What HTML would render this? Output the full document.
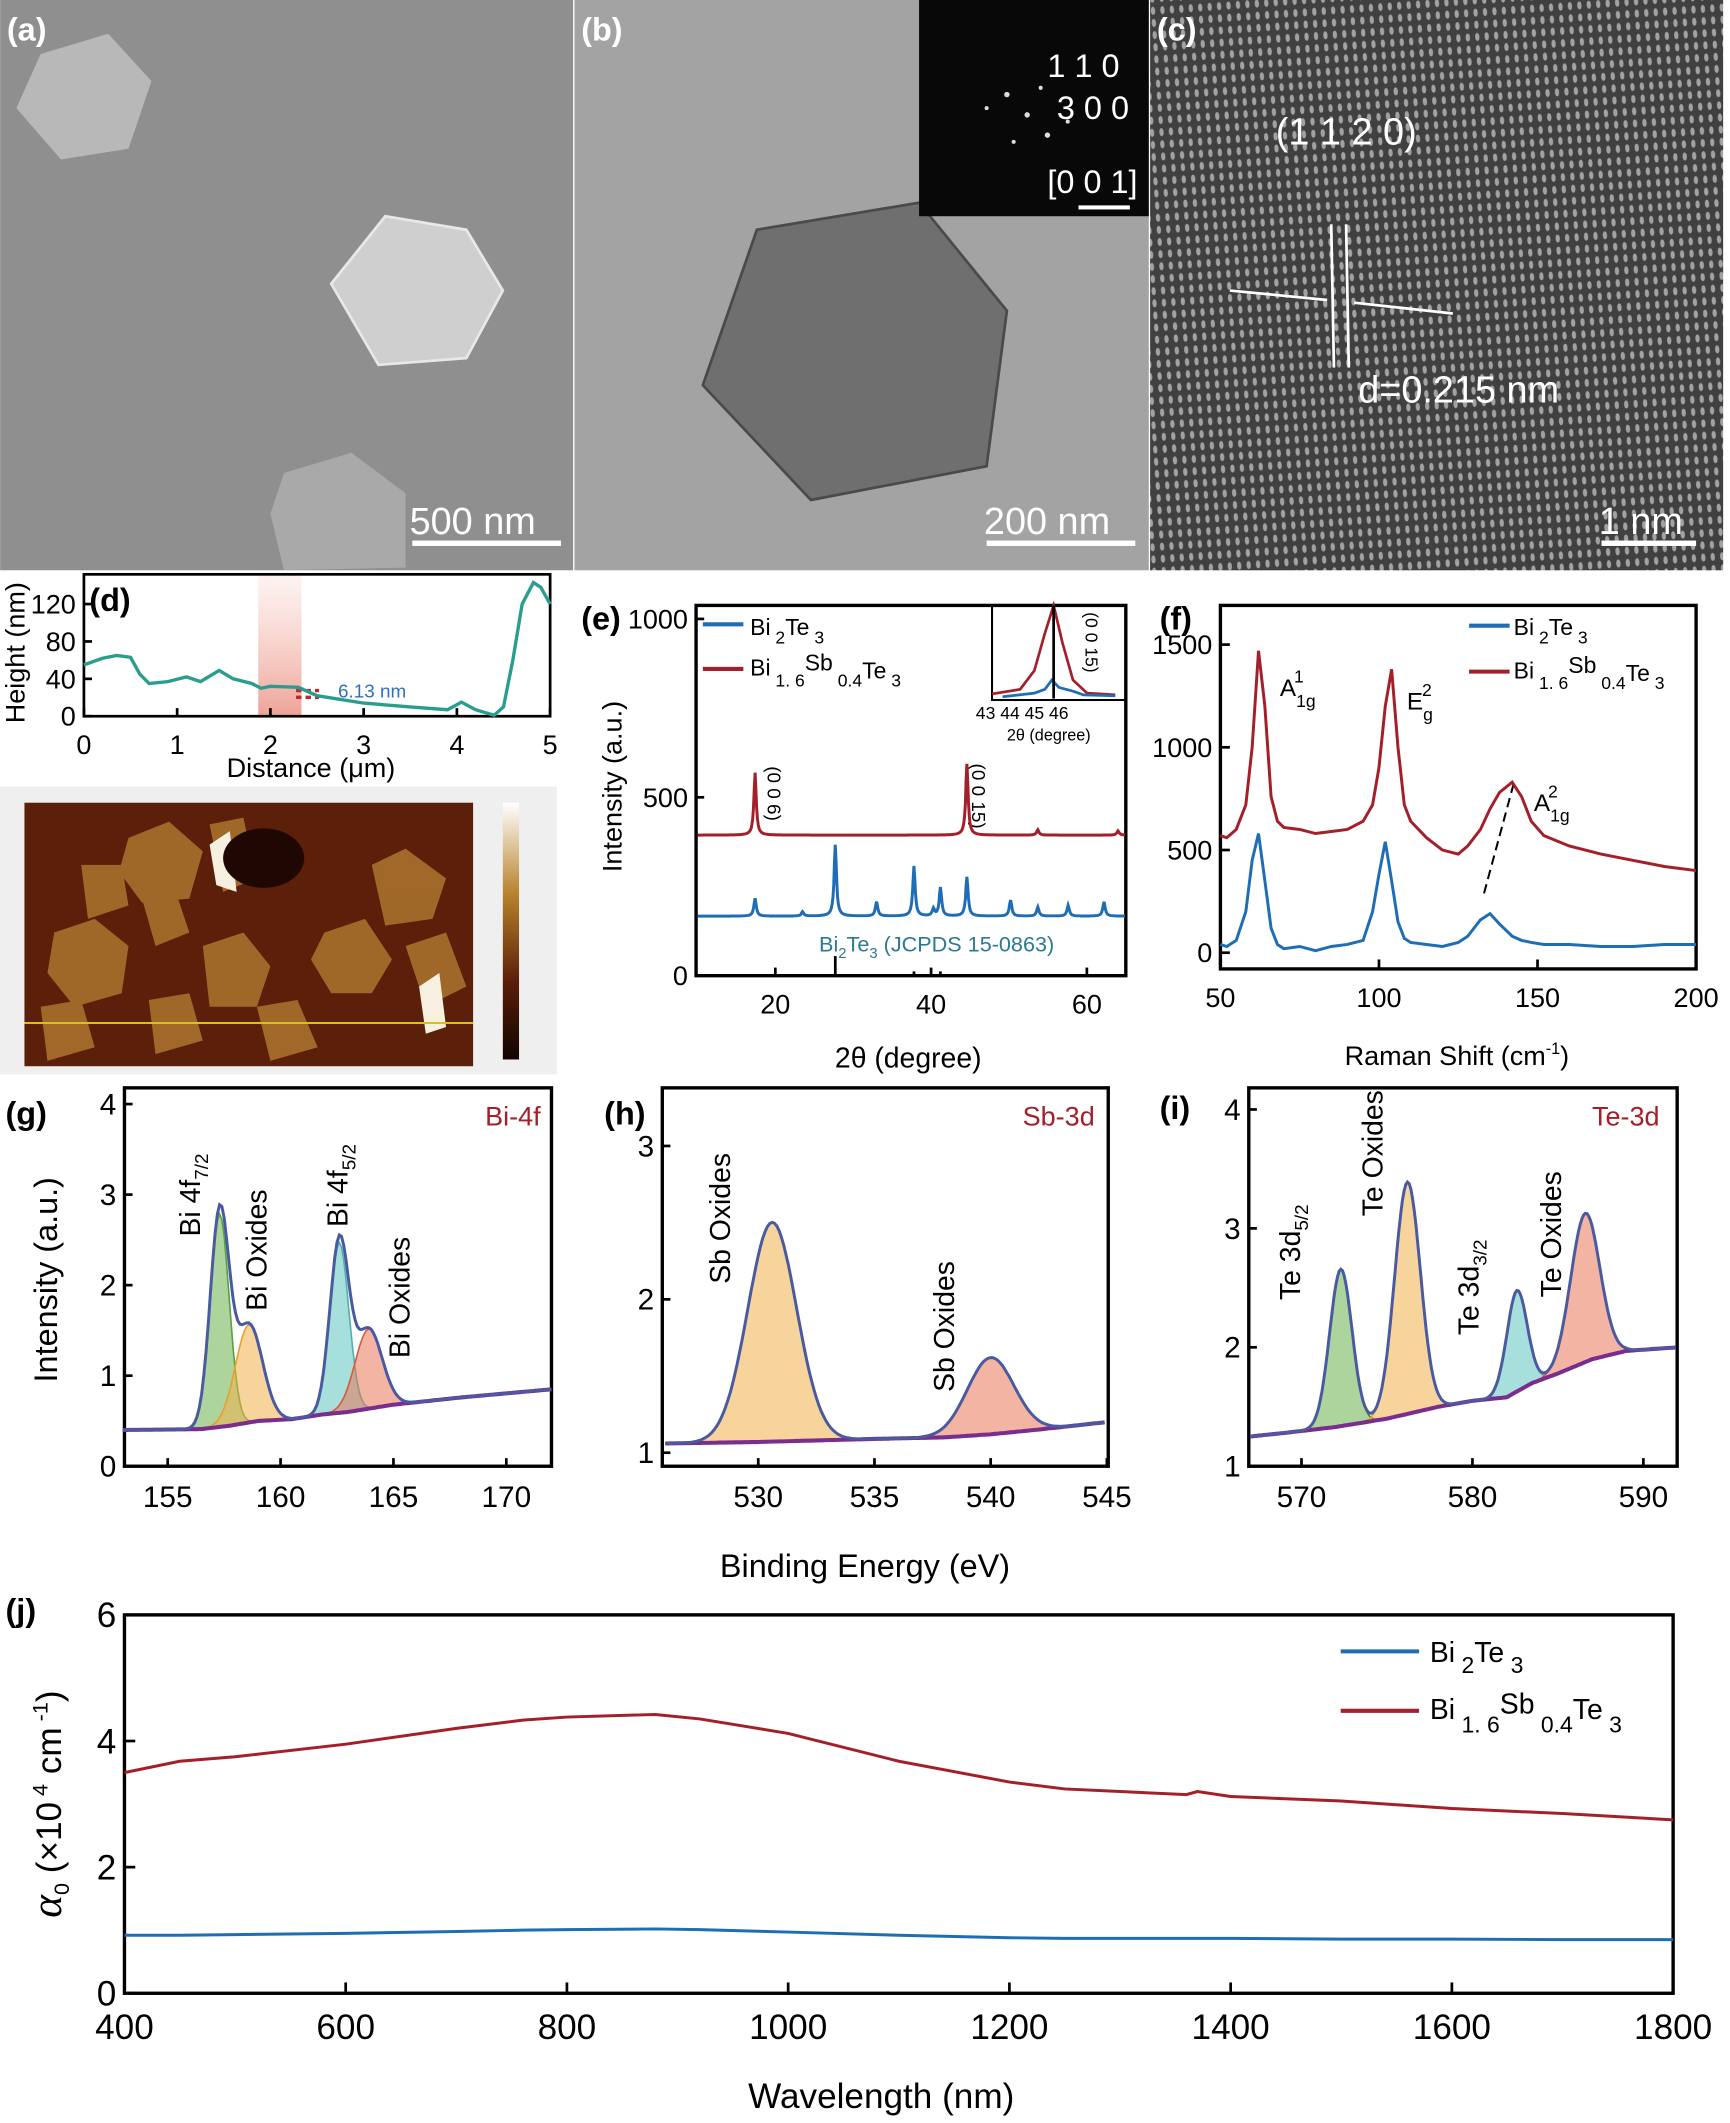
<!DOCTYPE html>
<html><head><meta charset="utf-8"><style>
html,body{margin:0;padding:0;background:#fff}
svg{display:block;font-family:"Liberation Sans",sans-serif}
</style></head><body>
<svg id="fig" width="1730" height="2123" viewBox="0 0 1280 1571" xmlns="http://www.w3.org/2000/svg">
<defs>
<pattern id="lat" width="7" height="9" patternUnits="userSpaceOnUse" patternTransform="rotate(-4)">
<rect width="7" height="9" fill="#3a3a3a"/><ellipse cx="3.5" cy="4.5" rx="1.6" ry="3" fill="#bdbdbd"/></pattern>
<linearGradient id="cbar" x1="0" y1="0" x2="0" y2="1"><stop offset="0" stop-color="#fff"/><stop offset="0.35" stop-color="#b8842e"/><stop offset="0.7" stop-color="#5a1e08"/><stop offset="1" stop-color="#100400"/></linearGradient>
<linearGradient id="band" x1="0" y1="0" x2="0" y2="1"><stop offset="0" stop-color="#f6c6bd" stop-opacity="0.2"/><stop offset="1" stop-color="#eea396"/></linearGradient>
</defs>
<!-- (a) -->
<g>
<rect x="0" y="0" width="424" height="422" fill="#8f8f8f"/>
<polygon points="30,40 80,25 112,60 95,110 45,118 12,80" fill="#b8b8b8"/>
<polygon points="285,160 345,170 372,215 345,265 280,270 245,210" fill="#cfcfcf" stroke="#e8e8e8" stroke-width="2"/>
<polygon points="210,350 260,335 300,365 300,420 210,422 200,380" fill="#a9a9a9"/>
<text x="5" y="30" font-size="24" font-weight="bold" fill="#fff">(a)</text>
<rect x="305" y="400" width="110" height="4" fill="#fff"/>
<text x="303" y="395" font-size="28" fill="#fff">500 nm</text>
</g>
<!-- (b) -->
<g>
<rect x="425" y="0" width="425" height="422" fill="#a3a3a3"/>
<polygon points="560,170 680,150 745,230 730,345 600,370 520,285" fill="#6f6f6f" stroke="#4a4a4a" stroke-width="2"/>
<rect x="680" y="0" width="170" height="160" fill="#080808"/>
<g fill="#ddd"><circle cx="760" cy="85" r="2"/><circle cx="745" cy="70" r="2"/><circle cx="775" cy="100" r="2"/><circle cx="730" cy="80" r="1.5"/><circle cx="790" cy="90" r="1.5"/><circle cx="750" cy="105" r="1.5"/><circle cx="770" cy="65" r="1.5"/></g>
<text x="775" y="57" font-size="24" fill="#fff">1 1 0</text>
<text x="782" y="88" font-size="24" fill="#fff">3 0 0</text>
<text x="775" y="143" font-size="24" fill="#fff">[0 0 1]</text>
<rect x="798" y="152" width="38" height="3" fill="#fff"/>
<text x="430" y="30" font-size="24" font-weight="bold" fill="#fff">(b)</text>
<rect x="730" y="400" width="110" height="4" fill="#fff"/>
<text x="728" y="395" font-size="28" fill="#fff">200 nm</text>
</g>
<!-- (c) -->
<g>
<rect x="851" y="0" width="424" height="422" fill="url(#lat)"/>
<rect x="851" y="0" width="424" height="422" fill="#555" opacity="0.25"/>
<text x="944" y="107" font-size="28" fill="#fff">(1 1 2 0)</text>
<line x1="985" y1="166" x2="987" y2="272" stroke="#fff" stroke-width="2"/>
<line x1="996" y1="166" x2="998" y2="272" stroke="#fff" stroke-width="2"/>
<line x1="910" y1="215" x2="982" y2="222" stroke="#fff" stroke-width="2"/>
<line x1="1075" y1="232" x2="1002" y2="224" stroke="#fff" stroke-width="2"/>
<text x="1005" y="298" font-size="28" fill="#fff">d=0.215 nm</text>
<text x="856" y="30" font-size="24" font-weight="bold" fill="#fff">(c)</text>
<rect x="1185" y="400" width="70" height="4" fill="#fff"/>
<text x="1183" y="395" font-size="28" fill="#fff">1 nm</text>
</g>
<!-- (d) -->
<g id="pd">
<rect x="191" y="425" width="32" height="105" fill="url(#band)"/>
<rect x="62" y="425" width="345" height="105" fill="none" stroke="#000" stroke-width="2"/>
<text x="66" y="452" font-size="24" font-weight="bold">(d)</text>
<text x="250" y="516" font-size="14" fill="#2f6fc0">6.13 nm</text>
<line x1="219" y1="511" x2="236" y2="511" stroke="#c0262a" stroke-width="2.5" stroke-dasharray="4,3"/>
<line x1="219" y1="516" x2="236" y2="516" stroke="#c0262a" stroke-width="2.5" stroke-dasharray="4,3"/>
<text x="25" y="490" font-size="20" transform="rotate(-90 18 490)" text-anchor="middle">Height (nm)</text>
<text x="230" y="575" font-size="20" text-anchor="middle">Distance (μm)</text>
</g>
<g>
<rect x="0" y="582" width="412" height="213" fill="#efefef"/>
<rect x="18" y="594" width="332" height="195" fill="#5b1f0a"/>
<g fill="#a8702c" opacity="0.9">
<polygon points="95,620 125,608 150,630 140,665 105,668 88,645"/>
<polygon points="155,610 180,605 190,650 165,660"/>
<polygon points="275,640 300,628 330,650 320,680 285,685"/>
<polygon points="240,690 270,680 290,710 275,735 245,735 230,710"/>
<polygon points="40,690 70,680 95,700 90,735 55,745 35,720"/>
<polygon points="150,700 180,690 200,715 190,745 155,745"/>
<polygon points="105,665 130,660 140,690 115,700"/>
<polygon points="60,640 90,640 95,670 65,680"/>
<polygon points="300,700 330,690 345,730 315,745"/>
<polygon points="30,745 60,740 70,775 35,785"/>
<polygon points="190,745 220,740 235,775 200,785"/>
<polygon points="110,740 140,735 150,770 115,780"/>
</g>
<polygon points="155,625 170,615 175,660 160,655" fill="#f7f0e0"/>
<polygon points="310,730 325,720 330,760 315,765" fill="#f7f0e0"/>
<ellipse cx="195" cy="635" rx="30" ry="22" fill="#1f0803"/>
<line x1="18" y1="757" x2="350" y2="757" stroke="#d8c020" stroke-width="1.5"/>
<rect x="372" y="594" width="12" height="190" fill="url(#cbar)"/>
</g>
<!-- (e) -->
<g id="pe">
<rect x="515" y="448" width="318" height="274" fill="none" stroke="#000" stroke-width="2.5"/>
<text x="430" y="466" font-size="24" font-weight="bold">(e)</text>
<text x="468" y="590" font-size="20" text-anchor="middle" transform="rotate(-90 460 590)">Intensity (a.u.)</text>
<text x="672" y="790" font-size="21" text-anchor="middle">2θ (degree)</text>
<line x1="520" y1="462" x2="550" y2="462" stroke="#1f6eb5" stroke-width="3"/>
<text x="555" y="470" font-size="17">Bi<tspan dy="6" font-size="13"> 2</tspan><tspan dy="-6">Te</tspan><tspan dy="6" font-size="13"> 3</tspan></text>
<line x1="520" y1="495" x2="550" y2="495" stroke="#a3202b" stroke-width="3"/>
<text x="555" y="500" font-size="17">Bi<tspan dy="8" font-size="13"> 1. 6</tspan><tspan dy="-12">Sb</tspan><tspan dy="12" font-size="13"> 0.4</tspan><tspan dy="-6">Te</tspan><tspan dy="6" font-size="13"> 3</tspan></text>
<text x="0" y="0" font-size="14" transform="translate(568,567) rotate(90)">(0 0 6)</text>
<text x="0" y="0" font-size="14" transform="translate(719,565) rotate(90)">(0 0 15)</text>
<text x="606" y="704" font-size="16" fill="#2a7a93">Bi<tspan font-size="11" dy="5">2</tspan><tspan dy="-5">Te</tspan><tspan font-size="11" dy="5">3</tspan><tspan dy="-5"> (JCPDS 15-0863)</tspan></text>
<rect x="734" y="448" width="99" height="70" fill="none" stroke="#000" stroke-width="1.5"/>
<text x="0" y="0" font-size="13" transform="translate(803,453) rotate(90)">(0 0 15)</text>
<text x="722" y="532" font-size="13">43 44 45 46</text>
<text x="745" y="548" font-size="12">2θ (degree)</text>
</g>
<!-- (f) -->
<g id="pf">
<rect x="903" y="448" width="352" height="269" fill="none" stroke="#000" stroke-width="2.5"/>
<text x="858" y="466" font-size="24" font-weight="bold">(f)</text>
<text x="1078" y="788" font-size="20" text-anchor="middle">Raman Shift (cm<tspan font-size="12" dy="-8">-1</tspan><tspan dy="8">)</tspan></text>
<line x1="1087" y1="463" x2="1117" y2="463" stroke="#1f6eb5" stroke-width="3"/>
<text x="1120" y="470" font-size="17">Bi<tspan dy="6" font-size="13"> 2</tspan><tspan dy="-6">Te</tspan><tspan dy="6" font-size="13"> 3</tspan></text>
<line x1="1087" y1="497" x2="1117" y2="497" stroke="#a3202b" stroke-width="3"/>
<text x="1120" y="502" font-size="17">Bi<tspan dy="8" font-size="13"> 1. 6</tspan><tspan dy="-12">Sb</tspan><tspan dy="12" font-size="13"> 0.4</tspan><tspan dy="-6">Te</tspan><tspan dy="6" font-size="13"> 3</tspan></text>
<text x="947" y="515" font-size="18">A<tspan font-size="13" dy="8">1g</tspan><tspan font-size="13" dx="-16" dy="-18">1</tspan></text>
<text x="1041" y="525" font-size="18">E<tspan font-size="13" dy="8">g</tspan><tspan font-size="13" dx="-8" dy="-18">2</tspan></text>
<text x="1135" y="600" font-size="18">A<tspan font-size="13" dy="8">1g</tspan><tspan font-size="13" dx="-16" dy="-18">2</tspan></text>
<line x1="1120" y1="580" x2="1097" y2="665" stroke="#000" stroke-width="1.5" stroke-dasharray="7,4"/>
</g>
<!-- (g)(h)(i) -->
<g id="pg">
<rect x="92" y="805" width="316" height="280" fill="none" stroke="#000" stroke-width="2.5"/>
<text x="4" y="832" font-size="24" font-weight="bold">(g)</text>
<text x="400" y="833" font-size="20" fill="#a3202b" text-anchor="end">Bi-4f</text>
<text x="50" y="955" font-size="24" text-anchor="middle" transform="rotate(-90 42 955)">Intensity (a.u.)</text>
<text x="148" y="915" font-size="21" transform="rotate(-90 148 915)">Bi 4f<tspan font-size="14" dy="6">7/2</tspan></text>
<text x="197" y="970" font-size="21" transform="rotate(-90 197 970)">Bi Oxides</text>
<text x="257" y="908" font-size="21" transform="rotate(-90 257 908)">Bi 4f<tspan font-size="14" dy="6">5/2</tspan></text>
<text x="303" y="1005" font-size="21" transform="rotate(-90 303 1005)">Bi Oxides</text>
</g>
<g id="ph">
<rect x="490" y="805" width="330" height="280" fill="none" stroke="#000" stroke-width="2.5"/>
<text x="447" y="832" font-size="24" font-weight="bold">(h)</text>
<text x="810" y="833" font-size="20" fill="#a3202b" text-anchor="end">Sb-3d</text>
<text x="540" y="950" font-size="21" transform="rotate(-90 540 950)">Sb Oxides</text>
<text x="706" y="1030" font-size="21" transform="rotate(-90 706 1030)">Sb Oxides</text>
<text x="640" y="1167" font-size="24" text-anchor="middle">Binding Energy (eV)</text>
</g>
<g id="pi">
<rect x="924" y="805" width="317" height="280" fill="none" stroke="#000" stroke-width="2.5"/>
<text x="858" y="828" font-size="24" font-weight="bold">(i)</text>
<text x="1228" y="833" font-size="20" fill="#a3202b" text-anchor="end">Te-3d</text>
<text x="962" y="962" font-size="21" transform="rotate(-90 962 962)">Te 3d<tspan font-size="14" dy="6">5/2</tspan></text>
<text x="1023" y="900" font-size="21" transform="rotate(-90 1023 900)">Te Oxides</text>
<text x="1094" y="988" font-size="21" transform="rotate(-90 1094 988)">Te 3d<tspan font-size="14" dy="6">3/2</tspan></text>
<text x="1155" y="960" font-size="21" transform="rotate(-90 1155 960)">Te Oxides</text>
</g>
<!-- (j) -->
<g id="pj">
<rect x="92" y="1195" width="1146" height="280" fill="none" stroke="#000" stroke-width="2.5"/>
<text x="4" y="1200" font-size="24" font-weight="bold">(j)</text>
<text x="652" y="1560" font-size="26" text-anchor="middle">Wavelength (nm)</text>
<text x="45" y="1335" font-size="26" text-anchor="middle" transform="rotate(-90 45 1335)"><tspan font-family="Liberation Serif" font-style="italic" font-size="32">α</tspan><tspan font-size="16" dy="6">0</tspan><tspan dy="-6"> (×10</tspan><tspan font-size="16" dy="-10"> 4</tspan><tspan dy="10"> cm</tspan><tspan font-size="16" dy="-10"> -1</tspan><tspan dy="10">)</tspan></text>
<line x1="992" y1="1222" x2="1050" y2="1222" stroke="#1f6eb5" stroke-width="3"/>
<text x="1058" y="1230" font-size="21">Bi<tspan dy="8" font-size="17"> 2</tspan><tspan dy="-8">Te</tspan><tspan dy="8" font-size="17"> 3</tspan></text>
<line x1="992" y1="1266" x2="1050" y2="1266" stroke="#a3202b" stroke-width="3"/>
<text x="1058" y="1272" font-size="21">Bi<tspan dy="10" font-size="17"> 1. 6</tspan><tspan dy="-14">Sb</tspan><tspan dy="14" font-size="17"> 0.4</tspan><tspan dy="-10">Te</tspan><tspan dy="10" font-size="17"> 3</tspan></text>
</g>
</svg>
<script>
// ---- data ----
const dDist=[0,0.2,0.35,0.5,0.6,0.7,0.9,1.1,1.25,1.45,1.6,1.8,1.9,2.0,2.3,2.5,3.0,3.5,3.9,4.05,4.2,4.4,4.5,4.6,4.7,4.82,4.9,5.0];
const dHeight=[55,62,65,63,45,35,37,42,37,49,40,35,30,32,31,22,14,10,7,15,7,1,10,60,120,143,138,120];
const dTicksX=[0,1,2,3,4,5];const dTicksY=[0,40,80,120];

const eRedBase=[10,65,394];const eBlueBase=[10,65,167];
const eRedPeakPos=[17.4,44.6,53.7,64];const eRedPeakInt=[175,200,15,12];
const eBluePeakPos=[17.4,23.5,27.7,33.0,37.8,40.3,41.2,44.6,50.2,53.7,57.6,62.2];
const eBluePeakInt=[50,12,200,40,140,20,80,110,45,25,30,40];
const eRefLinePos=[27.7,37.8,41.2];const eRefLineHt=[55,12,12];
const eTicksX=[20,40,60];const eTicksY=[0,500,1000];
const eInsetRed=[[43,0.05],[43.8,0.1],[44.2,0.3],[44.5,0.7],[44.75,1],[45.0,0.6],[45.3,0.2],[45.7,0.06],[46.5,0.04]];
const eInsetBlue=[[43.3,0.02],[44.2,0.06],[44.5,0.1],[44.7,0.2],[44.9,0.12],[45.3,0.08],[45.6,0.04],[46.5,0.03]];

const fShift=[50,52,55,58,60,62,64,66,68,70,75,80,85,90,95,98,100,102,104,106,108,110,115,120,125,128,132,135,138,142,145,148,152,160,170,180,190,200];
const fRed=[570,560,600,720,1000,1470,1200,760,640,610,600,580,590,600,640,720,900,1200,1380,1000,720,640,560,500,480,520,600,700,780,830,760,640,570,520,480,450,420,400];
const fBlue=[40,30,60,200,450,580,350,120,40,20,30,10,30,40,60,200,380,540,350,150,70,50,40,30,50,80,160,190,140,80,60,50,40,40,30,30,40,40];
const fTicksX=[50,100,150,200];const fTicksY=[0,500,1000,1500];

const gBgE=[153,156.5,157.8,159,160.5,161.8,163,164,165,168,172];
const gBgI=[0.4,0.41,0.45,0.5,0.52,0.57,0.6,0.64,0.68,0.76,0.85];
const gPeakC=[157.3,158.6,162.6,163.9];const gPeakH=[2.35,1.08,1.88,0.88];const gPeakW=[0.42,0.6,0.42,0.6];
const gTicksX=[155,160,165,170];const gTicksY=[0,1,2,3,4];

const hBgE=[526,530,535,538,540,542,545];
const hBgI=[1.06,1.07,1.09,1.1,1.12,1.15,1.2];
const hPeakC=[530.6,540.0];const hPeakH=[1.43,0.5];const hPeakW=[1.05,1.0];
const hTicksX=[530,535,540,545];const hTicksY=[1,2,3];

const iBgE=[567,569,572,575,578,580,582,583.5,585,587,589,592];
const iBgI=[1.25,1.28,1.33,1.4,1.5,1.55,1.58,1.7,1.78,1.9,1.97,2.0];
const iPeakC=[572.3,576.2,582.6,586.6];const iPeakH=[1.32,1.95,0.85,1.25];const iPeakW=[0.65,0.75,0.6,0.85];
const iTicksX=[570,580,590];const iTicksY=[1,2,3,4];

const jWave=[400,450,500,600,700,760,800,880,920,1000,1100,1200,1250,1300,1360,1370,1400,1500,1600,1700,1800];
const jRed=[3.5,3.68,3.75,3.95,4.2,4.33,4.38,4.42,4.35,4.12,3.68,3.35,3.24,3.2,3.15,3.2,3.12,3.05,2.93,2.85,2.75];
const jBlue=[0.92,0.92,0.93,0.95,0.98,1.0,1.01,1.02,1.01,0.97,0.92,0.88,0.87,0.87,0.87,0.87,0.87,0.86,0.86,0.85,0.85];
const jTicksX=[400,600,800,1000,1200,1400,1600,1800];const jTicksY=[0,2,4,6];

// ---- helpers ----
const NS='http://www.w3.org/2000/svg';
function mk(parent,tag,attrs){const e=document.createElementNS(NS,tag);for(const k in attrs)e.setAttribute(k,attrs[k]);document.getElementById(parent).appendChild(e);return e;}
function lin(d0,d1,p0,p1){return v=>p0+(v-d0)*(p1-p0)/(d1-d0);}
function pathOf(xs,ys,X,Y){return xs.map((x,i)=>(i?'L':'M')+X(x).toFixed(1)+','+Y(ys[i]).toFixed(1)).join('');}
function gauss(e,c,w){return Math.exp(-Math.pow((e-c)/w,2)/2);}
function axes(g,X,Y,tx,ty,yb,xl,fs,tickLen){
  tx.forEach(v=>{const l=mk(g,'line',{x1:X(v),x2:X(v),y1:yb,y2:yb-tickLen,stroke:'#000','stroke-width':2});
    
    
    const t=mk(g,'text',{x:X(v),y:yb+fs+8,'font-size':fs,'text-anchor':'middle'});t.textContent=v;
    
    });
  ty.forEach(v=>{const l=mk(g,'line',{x1:xl,x2:xl+tickLen,y1:Y(v),y2:Y(v),stroke:'#000','stroke-width':2});
    
    
    const t=mk(g,'text',{x:xl-6,y:Y(v)+fs*0.35,'font-size':fs,'text-anchor':'end'});t.textContent=v;
    
    });
}
function interp(xs,ys,x){if(x<=xs[0])return ys[0];for(let i=1;i<xs.length;i++)if(x<=xs[i]){const f=(x-xs[i-1])/(xs[i]-xs[i-1]);return ys[i-1]+f*(ys[i]-ys[i-1]);}return ys[ys.length-1];}

// (d)
{const X=lin(0,5,62,407),Y=lin(0,120,530,447);
 axes('pd',X,Y,dTicksX,dTicksY,530,62,20,6);
 const p=mk('pd','path',{d:pathOf(dDist,dHeight,X,Y),fill:'none',stroke:'#2a9d8f','stroke-width':2.5});
 
 }

// (e)
{const X=lin(10,65,516,833),Y=lin(0,1000,722,458);
 axes('pe',X,Y,eTicksX,eTicksY,722,515,20,6);
 function spec(base,pos,ints){const xs=[],ys=[];for(let t=base[0];t<=base[1];t+=0.1){let v=base[2];pos.forEach((c,k)=>{v+=ints[k]/(1+Math.pow((t-c)/0.18,2));});xs.push(t);ys.push(v);}return [xs,ys];}
 let [xs,ys]=spec(eRedBase,eRedPeakPos,eRedPeakInt);
 const r=mk('pe','path',{d:pathOf(xs,ys,X,Y),fill:'none',stroke:'#a3202b','stroke-width':2.2});
 
 
 [xs,ys]=spec(eBlueBase,eBluePeakPos,eBluePeakInt);
 const b=mk('pe','path',{d:pathOf(xs,ys,X,Y),fill:'none',stroke:'#1f6eb5','stroke-width':2.2});
 
 
 eRefLinePos.forEach((p,k)=>{const l=mk('pe','line',{x1:X(p),x2:X(p),y1:722,y2:Y(eRefLineHt[k]),stroke:'#000','stroke-width':2});
  
  });
 const IX=lin(43,46.8,734,833),IY=lin(0,1,517,448);
 const ir=mk('pe','path',{d:pathOf(eInsetRed.map(a=>a[0]),eInsetRed.map(a=>a[1]),IX,IY),fill:'none',stroke:'#a3202b','stroke-width':2});
 
 
 const ib=mk('pe','path',{d:pathOf(eInsetBlue.map(a=>a[0]),eInsetBlue.map(a=>a[1]),IX,IY),fill:'none',stroke:'#1f6eb5','stroke-width':2});
 
 
 const il=mk('pe','line',{x1:IX(44.75),x2:IX(44.75),y1:517,y2:448,stroke:'#000','stroke-width':2});
 
 }

// (f)
{const X=lin(50,200,903,1255),Y=lin(0,1500,705,477);
 axes('pf',X,Y,fTicksX,fTicksY,717,903,20,7);
 const r=mk('pf','path',{d:pathOf(fShift,fRed,X,Y),fill:'none',stroke:'#a3202b','stroke-width':2.2});
 
 
 const b=mk('pf','path',{d:pathOf(fShift,fBlue,X,Y),fill:'none',stroke:'#1f6eb5','stroke-width':2.2});
 
 }

// XPS
const compCols=['#6ab04c','#f0b04a','#5cc4c0','#e9765a'];
function xps(g,X,Y,e0,e1,bgE,bgI,pc,ph,pw,cols,yb,xl,tx,ty,lineCols){
 axes(g,X,Y,tx,ty,yb,xl,22,6);
 const xs=[];for(let e=e0;e<=e1;e+=0.1)xs.push(e);
 const bg=xs.map(e=>interp(bgE,bgI,e));
 pc.forEach((c,k)=>{const ys=xs.map((e,i)=>bg[i]+ph[k]*gauss(e,c,pw[k]));
  const top=pathOf(xs,ys,X,Y);
  const back=xs.slice().reverse().map((e,i)=>'L'+X(e).toFixed(1)+','+Y(bg[xs.length-1-i]).toFixed(1)).join('');
  const f=mk(g,'path',{d:top+back+'Z',fill:cols[k],'fill-opacity':0.55,stroke:lineCols[k],'stroke-width':1.2});
  
  });
 const env=xs.map((e,i)=>bg[i]+pc.reduce((s,c,k)=>s+ph[k]*gauss(e,c,pw[k]),0));
 const b=mk(g,'path',{d:pathOf(xs,bg,X,Y),fill:'none',stroke:'#7b2d8e','stroke-width':3});
 
 
 const p=mk(g,'path',{d:pathOf(xs,env,X,Y),fill:'none',stroke:'#4a5aa0','stroke-width':2.2});
 
 
}
xps('pg',lin(155,172,124,408),lin(0,4,1085,817),153,172,gBgE,gBgI,gPeakC,gPeakH,gPeakW,compCols,1085,92,gTicksX,gTicksY,['#5aa03c','#e8a030','#50b0b0','#d85a3a']);
xps('ph',lin(530,545,561,819),lin(1,3,1075,848),526,545,hBgE,hBgI,hPeakC,hPeakH,hPeakW,['#f0b04a','#e9765a'],1085,490,hTicksX,hTicksY,['#e8a030','#d85a3a']);
xps('pi',lin(570,590,963,1216),lin(1,4,1085,821),567,592,iBgE,iBgI,iPeakC,iPeakH,iPeakW,compCols,1085,924,iTicksX,iTicksY,['#2e8b2e','#e8a030','#50b0b0','#d85a3a']);

// (j)
{const X=lin(400,1800,92,1238),Y=lin(0,6,1475,1195);
 axes('pj',X,Y,jTicksX,jTicksY,1475,92,26,8);
 const r=mk('pj','path',{d:pathOf(jWave,jRed,X,Y),fill:'none',stroke:'#a3202b','stroke-width':2.2});
 
 
 const b=mk('pj','path',{d:pathOf(jWave,jBlue,X,Y),fill:'none',stroke:'#1f6eb5','stroke-width':2.2});
 
 }
</script>
</body></html>
